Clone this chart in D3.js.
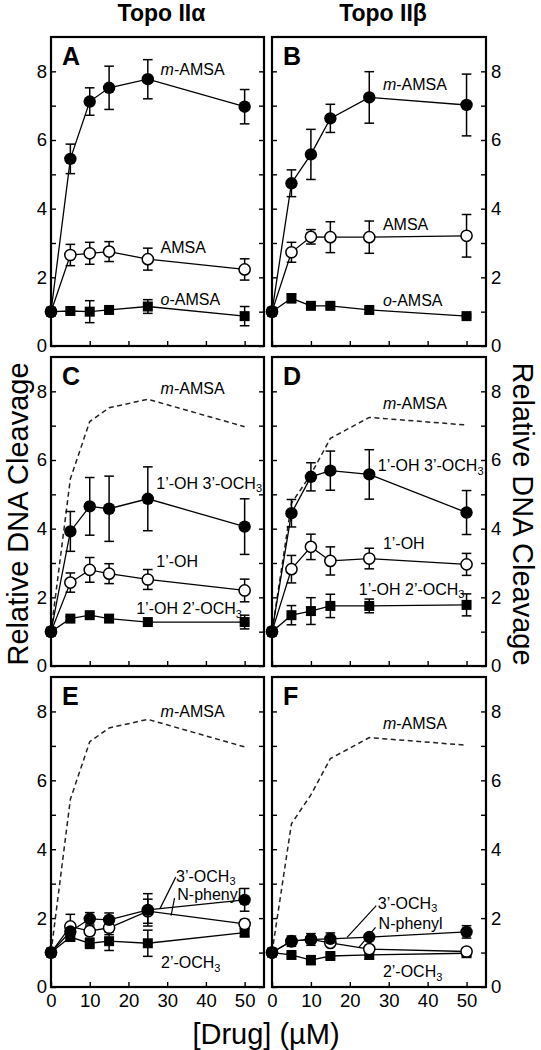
<!DOCTYPE html>
<html><head><meta charset="utf-8">
<script src="https://cdn.jsdelivr.net/npm/d3@7"></script>
<style>
body{margin:0;background:#fff}
svg{display:block}
text{font-family:"Liberation Sans",Arial,Helvetica,sans-serif;fill:#000}
</style>
</head><body>
<svg id="c" width="541" height="1050"></svg>
<script>
// ---------- data ----------
const conc = [0, 5, 10, 15, 25, 50];
const xTicks = [0, 10, 20, 30, 40, 50];
const yTickVals = [0, 1, 2, 3, 4, 5, 6, 7, 8];
const colTitles = ["Topo IIα", "Topo IIβ"];
const panelLetters = ["A", "B", "C", "D", "E", "F"];
const xTitle = "[Drug] (µM)";
const yTitle = "Relative DNA Cleavage";

// Panel A (Topo IIα)
const A_mAMSA = [1, 5.45, 7.12, 7.52, 7.77, 6.97];
const A_mAMSA_err = [0, 0.43, 0.40, 0.63, 0.57, 0.50];
const A_AMSA = [1, 2.65, 2.70, 2.75, 2.53, 2.23];
const A_AMSA_err = [0, 0.31, 0.32, 0.29, 0.32, 0.31];
const A_oAMSA = [1, 1.02, 1.00, 1.05, 1.15, 0.87];
const A_oAMSA_err = [0, 0.05, 0.32, 0.05, 0.20, 0.28];
// Panel B (Topo IIβ)
const B_mAMSA = [1, 4.74, 5.58, 6.63, 7.24, 7.02];
const B_mAMSA_err = [0, 0.39, 0.73, 0.41, 0.75, 0.90];
const B_AMSA = [1, 2.73, 3.18, 3.17, 3.17, 3.21];
const B_AMSA_err = [0, 0.29, 0.21, 0.45, 0.47, 0.62];
const B_oAMSA = [1, 1.39, 1.17, 1.17, 1.05, 0.87];
const B_oAMSA_err = [0, 0.13, 0.05, 0.06, 0.08, 0.04];
// Panel C
const C_OH_OMe3 = [1, 3.92, 4.65, 4.58, 4.87, 4.06];
const C_OH_OMe3_err = [0, 0.58, 0.84, 0.95, 0.93, 0.81];
const C_OH = [1, 2.43, 2.80, 2.69, 2.52, 2.20];
const C_OH_err = [0, 0.28, 0.36, 0.29, 0.29, 0.33];
const C_OH_OMe2 = [1, 1.38, 1.48, 1.38, 1.28, 1.28];
const C_OH_OMe2_err = [0, 0.06, 0.05, 0.10, 0.05, 0.20];
// Panel D
const D_OH_OMe3 = [1, 4.45, 5.51, 5.69, 5.58, 4.47];
const D_OH_OMe3_err = [0, 0.40, 0.41, 0.57, 0.72, 0.64];
const D_OH = [1, 2.82, 3.47, 3.06, 3.13, 2.96];
const D_OH_err = [0, 0.40, 0.37, 0.41, 0.30, 0.32];
const D_OH_OMe2 = [1, 1.48, 1.60, 1.75, 1.75, 1.78];
const D_OH_OMe2_err = [0, 0.28, 0.39, 0.34, 0.20, 0.32];
// Panel E
const E_OMe3 = [1, 1.61, 1.98, 1.95, 2.24, 2.53];
const E_OMe3_err = [0, 0.10, 0.18, 0.20, 0.47, 0.33];
const E_NPh = [1, 1.76, 1.62, 1.72, 2.20, 1.83];
const E_NPh_err = [0, 0.35, 0.12, 0.20, 0.35, 0.13];
const E_OMe2 = [1, 1.45, 1.27, 1.33, 1.27, 1.58];
const E_OMe2_err = [0, 0.10, 0.15, 0.27, 0.38, 0.12];
// Panel F
const F_OMe3 = [1, 1.33, 1.38, 1.40, 1.45, 1.60];
const F_OMe3_err = [0, 0.15, 0.17, 0.17, 0.08, 0.18];
const F_NPh = [1, 1.33, 1.38, 1.28, 1.10, 1.03];
const F_NPh_err = [0, 0.06, 0.06, 0.08, 0.06, 0.08];
const F_OMe2 = [1, 0.93, 0.78, 0.90, 0.93, 0.98];
const F_OMe2_err = [0, 0.05, 0.13, 0.06, 0.12, 0.08];

// ---------- panel definitions ----------
const mA = [{t:"m",i:1},{t:"-AMSA"}];
const panels = [
  {col:0,row:0, dashed:null,
   series:[{v:A_oAMSA,e:A_oAMSA_err,m:"sq"},{v:A_AMSA,e:A_AMSA_err,m:"open"},{v:A_mAMSA,e:A_mAMSA_err,m:"fill"}],
   labels:[{x:28.3,y:8.06,p:mA},{x:28.3,y:2.87,p:[{t:"AMSA"}]},{x:28.3,y:1.36,p:[{t:"o",i:1},{t:"-AMSA"}]}], leaders:[]},
  {col:1,row:0, dashed:null,
   series:[{v:B_oAMSA,e:B_oAMSA_err,m:"sq"},{v:B_AMSA,e:B_AMSA_err,m:"open"},{v:B_mAMSA,e:B_mAMSA_err,m:"fill"}],
   labels:[{x:28.5,y:7.62,p:mA},{x:28.5,y:3.54,p:[{t:"AMSA"}]},{x:28.5,y:1.34,p:[{t:"o",i:1},{t:"-AMSA"}]}], leaders:[]},
  {col:0,row:1, dashed:A_mAMSA,
   series:[{v:C_OH_OMe2,e:C_OH_OMe2_err,m:"sq"},{v:C_OH,e:C_OH_err,m:"open"},{v:C_OH_OMe3,e:C_OH_OMe3_err,m:"fill"}],
   labels:[{x:28.3,y:8.08,p:mA},{x:27.2,y:5.32,p:[{t:"1’-OH 3’-OCH"},{t:"3",s:1}]},{x:27.2,y:3.04,p:[{t:"1’-OH"}]},{x:22,y:1.67,p:[{t:"1’-OH 2’-OCH"},{t:"3",s:1}]}], leaders:[]},
  {col:1,row:1, dashed:B_mAMSA,
   series:[{v:D_OH_OMe2,e:D_OH_OMe2_err,m:"sq"},{v:D_OH,e:D_OH_err,m:"open"},{v:D_OH_OMe3,e:D_OH_OMe3_err,m:"fill"}],
   labels:[{x:28.5,y:7.66,p:mA},{x:27.2,y:5.84,p:[{t:"1’-OH 3’-OCH"},{t:"3",s:1}]},{x:28.5,y:3.58,p:[{t:"1’-OH"}]},{x:22.3,y:2.24,p:[{t:"1’-OH 2’-OCH"},{t:"3",s:1}]}], leaders:[]},
  {col:0,row:2, dashed:A_mAMSA,
   series:[{v:E_OMe2,e:E_OMe2_err,m:"sq"},{v:E_NPh,e:E_NPh_err,m:"open"},{v:E_OMe3,e:E_OMe3_err,m:"fill"}],
   labels:[{x:28.3,y:8.0,p:mA},{x:32.3,y:3.22,p:[{t:"3’-OCH"},{t:"3",s:1}]},{x:32.6,y:2.70,p:[{t:"N-phenyl"}]},{x:28.4,y:0.71,p:[{t:"2’-OCH"},{t:"3",s:1}]}],
   leaders:[[28.2,2.29,32.2,3.19],[31.0,2.07,31.9,2.58]]},
  {col:1,row:2, dashed:B_mAMSA,
   series:[{v:F_OMe2,e:F_OMe2_err,m:"sq"},{v:F_NPh,e:F_NPh_err,m:"open"},{v:F_OMe3,e:F_OMe3_err,m:"fill"}],
   labels:[{x:28.5,y:7.64,p:mA},{x:27.2,y:2.43,p:[{t:"3’-OCH"},{t:"3",s:1}]},{x:27.4,y:1.85,p:[{t:"N-phenyl"}]},{x:28.5,y:0.45,p:[{t:"2’-OCH"},{t:"3",s:1}]}],
   leaders:[[19.3,1.44,26.8,2.36],[22.3,1.14,26.6,1.73]]}
];

// ---------- layout ----------
const colX = [[51, 264], [272, 486]];
const rowY = [[37, 346], [357, 666], [677, 987]];
const svg = d3.select("#c");

function styleAxis(sel){
  sel.select(".domain").remove();
  sel.selectAll(".tick line").attr("stroke","#000").attr("stroke-width",1.4);
  sel.selectAll(".tick text").style("font-size","18.5px").style("font-family",'"Liberation Sans",Arial,sans-serif').attr("fill","#000");
}

panels.forEach((p, idx) => {
  const [x0, x1] = colX[p.col], [y0, y1] = rowY[p.row];
  const x = d3.scaleLinear().domain([0, 55]).range([x0, x1]);
  const y = d3.scaleLinear().domain([0, 9]).range([y1, y0]);
  const g = svg.append("g");

  const leftFmt = d => (p.col === 0 && d % 2 === 0) ? d : "";
  const rightFmt = d => (p.col === 1 && d % 2 === 0) ? d : "";
  g.append("g").attr("transform",`translate(${x0},0)`)
    .call(d3.axisLeft(y).tickValues(yTickVals).tickSizeInner(-5).tickSizeOuter(0).tickPadding(4).tickFormat(leftFmt))
    .call(styleAxis);
  g.append("g").attr("transform",`translate(${x1},0)`)
    .call(d3.axisRight(y).tickValues(yTickVals).tickSizeInner(-5).tickSizeOuter(0).tickPadding(5).tickFormat(rightFmt))
    .call(styleAxis);
  g.append("g").attr("transform",`translate(0,${y1})`)
    .call(d3.axisBottom(x).tickValues(xTicks).tickSizeInner(-5).tickSizeOuter(0).tickPadding(7)
      .tickFormat(d => p.row === 2 ? d : ""))
    .call(styleAxis);

  g.append("rect").attr("x",x0).attr("y",y0).attr("width",x1-x0).attr("height",y1-y0)
    .attr("fill","none").attr("stroke","#000").attr("stroke-width",2.2);

  g.append("text").attr("x",x0+11).attr("y",y0+28).text(panelLetters[idx])
    .style("font-size","25px").style("font-weight","bold");

  const line = d3.line().x((d,i)=>x(conc[i])).y(d=>y(d));

  if (p.dashed) {
    g.append("path").attr("d", line(p.dashed)).attr("fill","none")
      .attr("stroke","#222").attr("stroke-width",1.5).attr("stroke-dasharray","5,3.5");
  }

  p.series.forEach(s => {
    g.append("path").attr("d", line(s.v)).attr("fill","none").attr("stroke","#000").attr("stroke-width",1.3);
  });
  p.series.forEach(s => {
    s.v.forEach((v,i) => {
      const e = s.e[i]; if (!e) return;
      const cx = x(conc[i]);
      g.append("line").attr("x1",cx).attr("x2",cx).attr("y1",y(v-e)).attr("y2",y(v+e)).attr("stroke","#000").attr("stroke-width",1.5);
      [v-e, v+e].forEach(w => g.append("line").attr("x1",cx-4.8).attr("x2",cx+4.8).attr("y1",y(w)).attr("y2",y(w)).attr("stroke","#000").attr("stroke-width",1.5));
    });
  });
  p.series.forEach(s => {
    s.v.forEach((v,i) => {
      const cx = x(conc[i]), cy = y(v);
      if (s.m === "sq") {
        g.append("rect").attr("x",cx-5).attr("y",cy-5).attr("width",10).attr("height",10).attr("fill","#000");
      } else if (s.m === "open") {
        g.append("circle").attr("cx",cx).attr("cy",cy).attr("r",5.6).attr("fill","#fff").attr("stroke","#000").attr("stroke-width",1.5);
      } else {
        g.append("circle").attr("cx",cx).attr("cy",cy).attr("r",6.2).attr("fill","#000");
      }
    });
  });

  p.leaders.forEach(l => {
    g.append("line").attr("x1",x(l[0])).attr("y1",y(l[1])).attr("x2",x(l[2])).attr("y2",y(l[3]))
      .attr("stroke","#000").attr("stroke-width",1.2);
  });

  p.labels.forEach(L => {
    const t = g.append("text").attr("x",x(L.x)).attr("y",y(L.y)).attr("dy","0.35em").style("font-size","16px");
    L.p.forEach(part => {
      const ts = t.append("tspan").text(part.t);
      if (part.i) ts.style("font-style","italic");
      if (part.s) ts.style("font-size","11px").attr("dy","3.5");
    });
  });
});

colTitles.forEach((t,i) => {
  svg.append("text").attr("x", (colX[i][0]+colX[i][1])/2 + 4).attr("y", 21)
    .attr("text-anchor","middle").style("font-size","23px").style("font-weight","bold").text(t);
});

svg.append("text").attr("transform","translate(28,514) rotate(-90)").attr("text-anchor","middle")
  .style("font-size","29px").text(yTitle);
svg.append("text").attr("transform","translate(513,514) rotate(90)").attr("text-anchor","middle")
  .style("font-size","29px").text(yTitle);
svg.append("text").attr("x", 266).attr("y", 1044).attr("text-anchor","middle")
  .style("font-size","29px").text(xTitle);
</script>
</body></html>
